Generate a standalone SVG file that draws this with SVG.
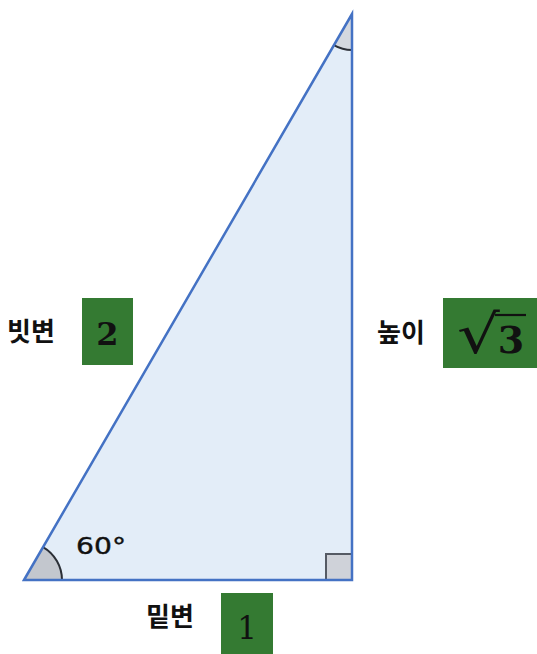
<svg xmlns="http://www.w3.org/2000/svg" width="537" height="654" viewBox="0 0 537 654">
<style>
.lbl{font-family:"Noto Sans CJK KR","Noto Sans",sans-serif;font-weight:700;font-size:26px;fill:#111}
.box{fill:#347a32}
.num{font-family:"DejaVu Serif","Liberation Serif",serif;fill:#111}
.edge{fill:none;stroke:#4472c4;stroke-width:2.5;stroke-linejoin:miter}
.arc{stroke:#2b2f36;stroke-width:2}
</style>
<rect width="537" height="654" fill="#fff"/>
<g id="triangle">
<polygon points="24,580 352,14 352,580" fill="#e3edf8"/>
<path d="M24,580 L62,580 A38,38 0 0 0 43,547.1 Z" fill="#c3c7ce"/>
<path d="M62,580 A38,38 0 0 0 43,547.1" fill="none" class="arc"/>
<path d="M352,14 L333.9,45.1 A36,36 0 0 0 352,50 Z" fill="#d4d8df"/>
<path d="M333.9,45.1 A36,36 0 0 0 352,50" fill="none" class="arc"/>
<rect x="326" y="554" width="26" height="26" fill="#cfd2d9" stroke="#555a64" stroke-width="2"/>
<polygon points="24,580 352,14 352,580" class="edge"/>
<text x="76" y="553.5" font-family="'DejaVu Sans','Liberation Sans',sans-serif" font-size="23" fill="#111" stroke="#111" stroke-width="0.4" textLength="50" lengthAdjust="spacingAndGlyphs">60°</text>
</g>
<g id="hypotenuse-label">
<text x="7" y="341" class="lbl">빗변</text>
<rect x="82" y="298" width="51" height="67" class="box"/>
<text x="107.5" y="345" class="num" font-size="32" font-weight="700" text-anchor="middle">2</text>
</g>
<g id="height-label">
<text x="377" y="342" class="lbl">높이</text>
<rect x="443" y="298" width="94" height="70" class="box"/>
<text transform="translate(457,353) scale(1.4,1.12)" class="num" font-size="48">√</text>
<line x1="495" y1="315" x2="526" y2="315" stroke="#111" stroke-width="2.2"/>
<text x="511" y="353" class="num" font-size="38" font-weight="700" text-anchor="middle">3</text>
</g>
<g id="base-label">
<text x="146" y="626" class="lbl">밑변</text>
<rect x="221" y="593" width="52" height="61" class="box"/>
<text x="247" y="639" class="num" font-size="31" text-anchor="middle">1</text>
</g>
</svg>
